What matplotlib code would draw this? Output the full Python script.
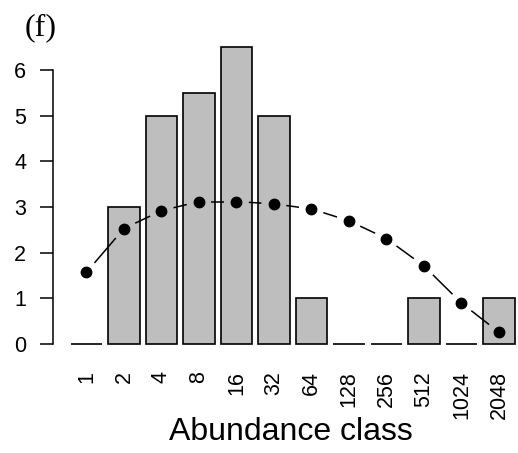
import numpy as np
import matplotlib
matplotlib.use("Agg")
import matplotlib.pyplot as plt

classes = ["1", "2", "4", "8", "16", "32", "64", "128", "256", "512", "1024", "2048"]
counts = [0, 3, 5, 5.5, 6.5, 5, 1, 0, 0, 1, 0, 1]
fitted = [1.57, 2.53, 2.92, 3.12, 3.12, 3.07, 2.96, 2.70, 2.31, 1.71, 0.90, 0.26]

plt.rcParams['font.family'] = ['Liberation Sans', 'DejaVu Sans']

fig = plt.figure(figsize=(5.18, 4.53), dpi=100)
ax = fig.add_axes([53 / 518, 1 - 356 / 453, 1 - 53 / 518, (356 - 35.3) / 453])

# barplot-style positions: width 1, gap 0.2
x = 0.7 + 1.2 * np.arange(len(classes))
ax.bar(x, counts, width=1.0, color="#bebebe", edgecolor="black", linewidth=1.2)

ax.set_xlim(-0.368, 14.51)
ax.set_ylim(-0.26, 6.76)

# points joined by segments that stop short of each point (type "b" look)
gap = 12.5  # pixels
pts = ax.transData.transform(np.column_stack([x, fitted]))
inv = ax.transData.inverted()
for p0, p1 in zip(pts[:-1], pts[1:]):
    d = p1 - p0
    n = np.hypot(*d)
    if n <= 2 * gap:
        continue
    u = d / n
    seg = inv.transform(np.array([p0 + u * gap, p1 - u * gap]))
    ax.plot(seg[:, 0], seg[:, 1], color="black", linewidth=1.1,
            solid_capstyle="butt")
ax.plot(x, fitted, linestyle="none", marker="o", markersize=7.5,
        markerfacecolor="black", markeredgecolor="black")

for side in ["top", "right", "bottom"]:
    ax.spines[side].set_visible(False)
ax.spines["left"].set_bounds(0, 6)
ax.spines["left"].set_linewidth(1.1)

ax.set_yticks(range(0, 7))
ax.tick_params(axis="y", length=9.4, width=1.1, pad=10.0, labelsize=15.5)
ax.set_xticks(x)
ax.set_xticklabels(classes, rotation=90, fontsize=15.5)
ax.tick_params(axis="x", length=0, pad=11.0)

fig.text(291 / 518, 1 - 432 / 453, "Abundance class", fontsize=23,
         ha="center", va="center")
fig.text(25 / 518, 1 - 28 / 453, "(f)", fontsize=23, family="Liberation Serif",
         ha="left", va="center")

fig.savefig("out.png", dpi=100)
